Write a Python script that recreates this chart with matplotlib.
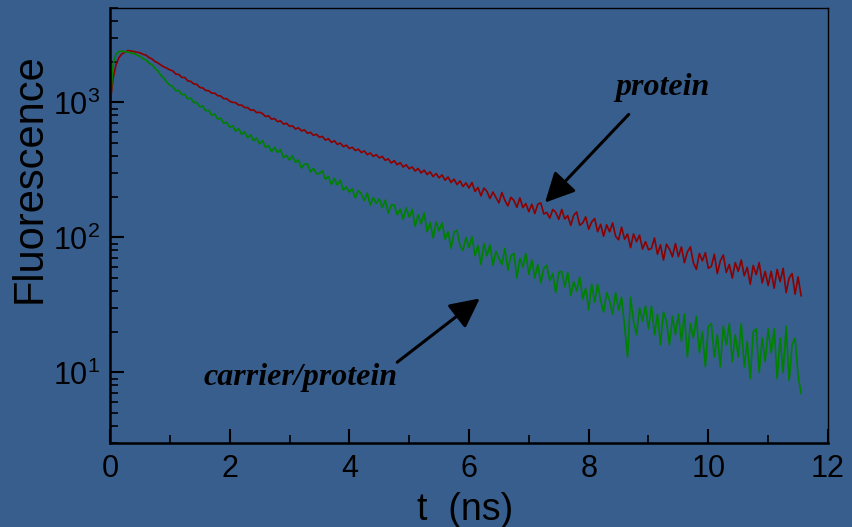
import numpy as np
import matplotlib
matplotlib.use('Agg')
import matplotlib.pyplot as plt
from matplotlib.ticker import LogLocator, LogFormatterMathtext, MultipleLocator, NullFormatter

# fluorescence decay traces, every 0.05 ns
protein = [950, 1500, 1900, 2150, 2290, 2350, 2420, 2400, 2380, 2350,
           2330, 2270, 2240, 2150, 2100, 2010, 1960, 1890, 1830, 1790,
           1740, 1710, 1620, 1610, 1530, 1530, 1440, 1430, 1370, 1360,
           1290, 1280, 1225, 1220, 1170, 1170, 1120, 1115, 1065, 1065,
           1020, 1000, 995, 955, 955, 915, 915, 875, 880, 840,
           845, 825, 785, 795, 750, 760, 720, 730, 690, 700,
           665, 670, 635, 648, 615, 625, 590, 600, 570, 580,
           552, 560, 525, 538, 505, 520, 488, 500, 470, 482,
           455, 465, 440, 450, 425, 437, 410, 422, 398, 410,
           388, 398, 372, 382, 355, 370, 345, 358, 332, 345,
           322, 333, 310, 324, 300, 315, 292, 306, 282, 297,
           276, 290, 265, 280, 255, 270, 246, 262, 238, 253,
           232, 255, 219, 234, 203, 232, 219, 194, 217, 198,
           180, 215, 188, 171, 198, 188, 167, 196, 166, 178,
           155, 176, 150, 176, 180, 149, 153, 139, 161, 153,
           136, 161, 137, 145, 123, 146, 154, 123, 128, 142,
           115, 130, 138, 110, 125, 102, 124, 110, 128, 102,
           96, 119, 97, 106, 84, 106, 93, 104, 82, 93,
           81, 83, 99, 75, 88, 68, 89, 82, 72, 90,
           72, 85, 65, 78, 85, 65, 58, 76, 67, 77,
           59, 61, 75, 54, 67, 74, 55, 63, 50, 65,
           56, 68, 52, 60, 45, 62, 53, 65, 46, 56,
           44, 56, 42, 58, 47, 59, 39, 50, 54, 38,
           51, 37]

carrier_protein = [900, 1900, 2280, 2380, 2400, 2370, 2360, 2320, 2300, 2240,
                   2190, 2110, 2060, 1960, 1900, 1790, 1710, 1590, 1510, 1410,
                   1340, 1310, 1220, 1225, 1140, 1150, 1060, 1075, 995, 1000,
                   925, 940, 865, 875, 800, 820, 750, 765, 700, 712,
                   655, 670, 610, 640, 580, 605, 545, 575, 520, 545,
                   492, 521, 464, 479, 431, 464, 425, 447, 390, 404,
                   374, 403, 359, 374, 326, 349, 350, 305, 325, 296,
                   297, 311, 269, 283, 246, 273, 244, 265, 224, 236,
                   216, 229, 196, 223, 210, 187, 213, 173, 197, 178,
                   193, 166, 189, 151, 173, 174, 147, 162, 136, 166,
                   141, 161, 121, 147, 126, 152, 110, 129, 99, 130,
                   112, 128, 97, 110, 83, 109, 113, 87, 80, 100,
                   84, 101, 73, 87, 63, 90, 73, 88, 62, 79,
                   70, 63, 83, 57, 73, 76, 50, 70, 60, 76,
                   53, 68, 50, 63, 46, 59, 62, 48, 54, 39,
                   55, 56, 43, 55, 37, 47, 40, 51, 35, 42,
                   29, 45, 33, 45, 34, 28, 39, 34, 27, 39,
                   29, 36, 22, 13, 36, 24, 19, 30, 24, 31,
                   21, 31, 19, 27, 16, 28, 24, 16, 26, 19,
                   27, 17, 27, 13, 23, 18, 26, 14, 20, 11,
                   22, 23, 13, 19, 11, 22, 16, 23, 12, 19,
                   13, 23, 11, 17, 9, 20, 21, 10, 18, 12,
                   21, 14, 21, 9, 18, 10, 22, 8.7, 16, 18,
                   9.5, 7]

t = np.round(np.arange(len(protein)) * 0.05, 2)

BG = '#385e8e'

plt.rcParams['font.family'] = ['Liberation Sans', 'DejaVu Sans']
plt.rcParams['mathtext.fontset'] = 'custom'
plt.rcParams['mathtext.rm'] = 'Liberation Sans'
plt.rcParams['mathtext.it'] = 'Liberation Sans:italic'

fig = plt.figure(figsize=(8.52, 5.27), dpi=100, facecolor=BG)
ax = fig.add_axes([110 / 852, 1 - 443 / 527, 718 / 852, 435 / 527], facecolor=BG)

ax.plot(t, protein, color='#8c0000', lw=1.2)
ax.plot(t, carrier_protein, color='#008000', lw=1.2)

ax.set_yscale('log')
ax.set_xlim(0, 12)
ax.set_ylim(3, 5000)

# ticks
ax.xaxis.set_major_locator(MultipleLocator(2))
ax.xaxis.set_minor_locator(MultipleLocator(1))
ax.yaxis.set_major_locator(LogLocator(base=10))
ax.yaxis.set_major_formatter(LogFormatterMathtext())
ax.yaxis.set_minor_locator(LogLocator(base=10, subs=np.arange(2, 10)))
ax.yaxis.set_minor_formatter(NullFormatter())
ax.tick_params(which='both', direction='in', top=False, right=False, color='black')
ax.tick_params(which='major', length=10, width=1.5, labelsize=22, pad=8)
ax.tick_params(which='minor', length=6, width=1.2)
ax.tick_params(axis='y', which='major', pad=7)

for s in ['left', 'bottom']:
    ax.spines[s].set_linewidth(1.8)
for s in ['top', 'right']:
    ax.spines[s].set_linewidth(1.0)

ax.set_xlabel('t  (ns)', fontsize=27)
ax.set_ylabel('Fluorescence', fontsize=30)
ax.xaxis.set_label_coords(0.494, -0.113)
ax.yaxis.set_label_coords(-0.084, 0.609)

# annotations
arrow = dict(arrowstyle='-|>,head_length=0.9,head_width=0.45', color='black',
             lw=2.2, shrinkA=0, shrinkB=0, mutation_scale=20)
ax.annotate('', xy=(7.27, 181), xytext=(8.67, 815), arrowprops=arrow)
ax.annotate('', xy=(6.18, 35.3), xytext=(4.80, 11.9), arrowprops=arrow)

ax.text(9.24, 1292, 'protein', family='Liberation Serif', style='italic',
        weight='bold', fontsize=23, ha='center', va='center')
ax.text(3.19, 9.2, 'carrier/protein', family='Liberation Serif', style='italic',
        weight='bold', fontsize=23, ha='center', va='center')

fig.savefig('out.png', dpi=100, facecolor=BG)
